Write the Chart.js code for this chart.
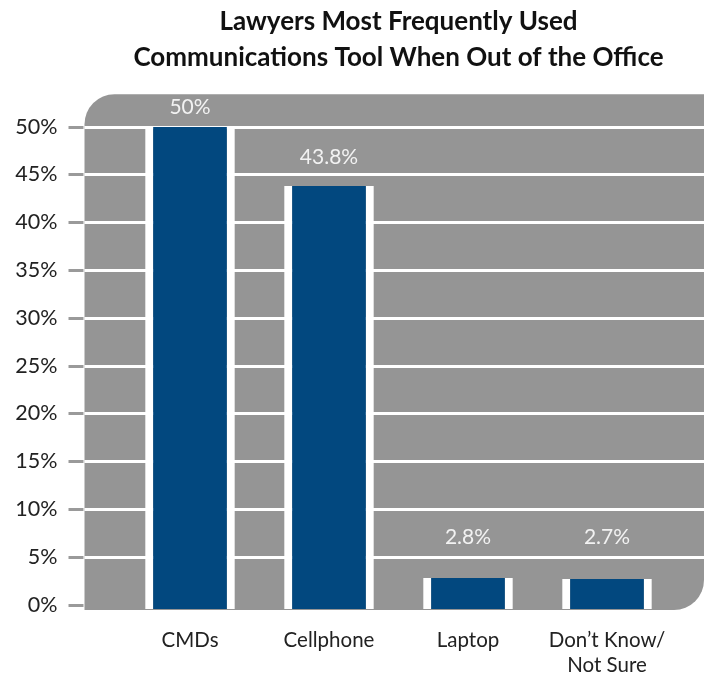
<!DOCTYPE html>
<html>
<head>
<meta charset="utf-8">
<script src="https://cdn.jsdelivr.net/npm/chart.js@4.4.1/dist/chart.umd.min.js"></script>
<style>
  html, body { margin: 0; padding: 0; background: #ffffff; }
  #wrap { width: 704px; height: 677px; }
</style>
</head>
<body>
<div id="wrap"><canvas id="myChart" width="704" height="677"></canvas></div>
<script>
// data
const categories = ['CMDs', 'Cellphone', 'Laptop', ["Don\u2019t Know/", 'Not Sure']];
const shares = [50, 43.8, 2.8, 2.7];
const shareLabels = ['50%', '43.8%', '2.8%', '2.7%'];
const yTicks = [0, 5, 10, 15, 20, 25, 30, 35, 40, 45, 50];

// style bits
const GREY = '#959595';
const BLUE = '#02487f';
const labelLift = [19, 29, 41, 42];   // px above bar top for the value labels
const yMin = -0.45;
const bgTopValue = 53.4;

const backdrop = {
  id: 'backdrop',
  beforeDatasetsDraw(chart) {
    const { ctx, chartArea, scales } = chart;
    const y = scales.y;
    const left = chartArea.left - 36;
    const right = chart.width;
    const top = y.getPixelForValue(bgTopValue);
    const bottom = chartArea.bottom + 1;
    const r = 30;
    ctx.save();
    ctx.fillStyle = GREY;
    ctx.beginPath();
    ctx.moveTo(left + r, top);
    ctx.lineTo(right, top);
    ctx.lineTo(right, bottom - r);
    ctx.arcTo(right, bottom, right - r, bottom, r);
    ctx.lineTo(left, bottom);
    ctx.lineTo(left, top + r);
    ctx.arcTo(left, top, left + r, top, r);
    ctx.closePath();
    ctx.fill();
    // white gridlines across the grey panel + short grey tick marks
    yTicks.forEach(v => {
      if (v === 0) return;
      const py = Math.round(y.getPixelForValue(v)) + 0.5;
      ctx.strokeStyle = '#ffffff';
      ctx.lineWidth = 3;
      ctx.beginPath();
      ctx.moveTo(left, py);
      ctx.lineTo(right, py);
      ctx.stroke();
    });
    yTicks.forEach(v => {
      const py = Math.round(y.getPixelForValue(v)) + 0.5;
      ctx.strokeStyle = '#9a9a9a';
      ctx.lineWidth = 3;
      ctx.beginPath();
      ctx.moveTo(left - 16, py);
      ctx.lineTo(left - 1, py);
      ctx.stroke();
    });
    ctx.restore();
  },
  afterDatasetsDraw(chart) {
    const { ctx } = chart;
    const meta = chart.getDatasetMeta(0);
    ctx.save();
    ctx.fillStyle = '#f2f2f2';
    ctx.font = '21px Lato';
    ctx.textAlign = 'center';
    ctx.textBaseline = 'middle';
    meta.data.forEach((bar, i) => {
      ctx.fillText(shareLabels[i], bar.x, bar.y - labelLift[i]);
    });
    ctx.restore();
  }
};

const ctx = document.getElementById('myChart').getContext('2d');

const chart = new Chart(ctx, {
  type: 'bar',
  data: {
    labels: categories,
    datasets: [
      {
        data: shares,
        base: yMin,
        backgroundColor: BLUE,
        borderColor: '#ffffff',
        borderWidth: { left: 8, right: 8, top: 0, bottom: 0 },
        borderSkipped: false,
        categoryPercentage: 1,
        barPercentage: 0.645
      }
    ]
  },
  plugins: [backdrop],
  options: {
    responsive: false,
    animation: false,
    layout: { padding: { left: 0, right: 27.5, top: 0, bottom: 0 } },
    scales: {
      x: {
        afterFit: scale => { scale.height = 68; },
        grid: { display: false, drawTicks: false },
        border: { display: false },
        ticks: {
          color: '#222222',
          font: { family: 'Lato', size: 20.5, lineHeight: 1.22 },
          padding: 18.5,
          maxRotation: 0,
          autoSkip: false
        }
      },
      y: {
        min: yMin,
        max: 50,
        afterBuildTicks: scale => { scale.ticks = yTicks.map(v => ({ value: v })); },
        afterFit: scale => { scale.width = 120.5; },
        // invisible long tick marks push the labels left; the real dashes come from the plugin
        grid: { display: true, drawOnChartArea: false, drawTicks: true, tickLength: 55, tickColor: 'rgba(0,0,0,0)' },
        border: { display: false },
        ticks: {
          color: '#222222',
          font: { family: 'Lato', size: 21.5 },
          padding: 8,
          callback: v => v + '%'
        }
      }
    },
    plugins: {
      legend: { display: false },
      tooltip: { enabled: false },
      title: {
        display: true,
        fullSize: false,
        text: ['Lawyers Most Frequently Used', 'Communications Tool When Out of the Office'],
        color: '#111111',
        font: { family: 'Lato', size: 26, weight: 'bold', lineHeight: 1.35 },
        padding: { top: 4.5, bottom: 52 }
      }
    }
  }
});
</script>
</body>
</html>
